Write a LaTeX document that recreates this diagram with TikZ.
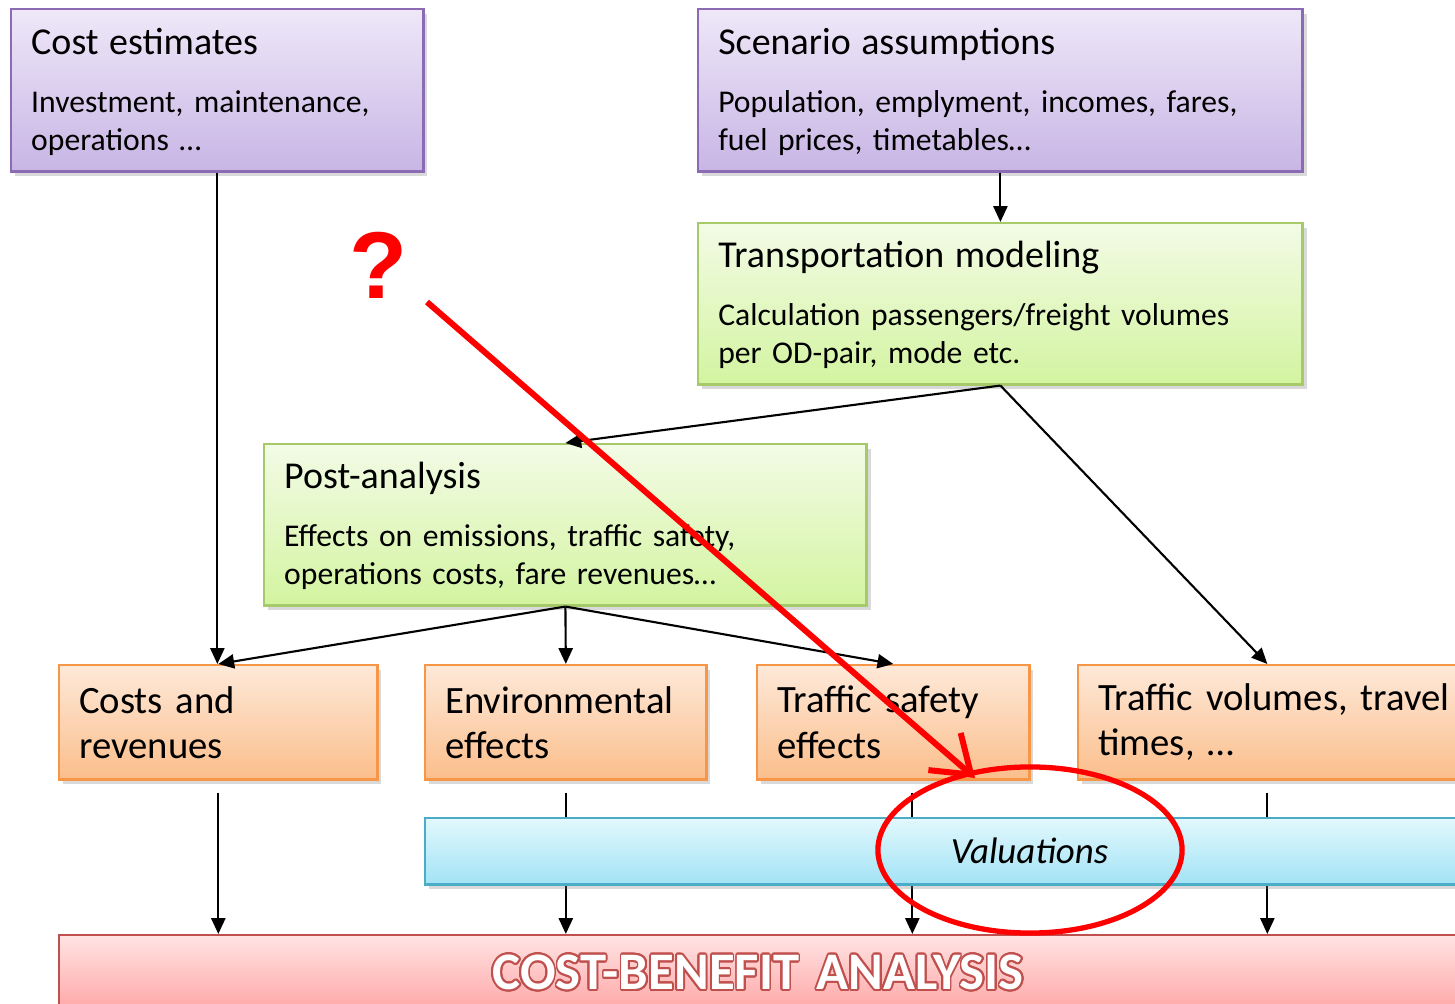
\documentclass[tikz,border=0pt]{standalone}
\usepackage{fontspec}
\setmainfont{Carlito}
\newfontfamily\qmarkfont{Liberation Sans}
\usepackage{xcolor}
\usepackage[copies]{contour}
\usepackage{tikz}
\usetikzlibrary{shadows,arrows.meta}
\contourlength{0.5pt}
\contournumber{24}
\definecolor{purpletop}{HTML}{EEE8F8}
\definecolor{purplebot}{HTML}{C8B5E5}
\definecolor{purpleline}{HTML}{8C6BB5}
\definecolor{greentop}{HTML}{F3FBE6}
\definecolor{greenbot}{HTML}{D3F4A0}
\definecolor{greenline}{HTML}{A6C96A}
\definecolor{orangetop}{HTML}{FEE9D9}
\definecolor{orangebot}{HTML}{FBBE8B}
\definecolor{orangeline}{HTML}{F79646}
\definecolor{cyantop}{HTML}{E2F8FD}
\definecolor{cyanbot}{HTML}{A2E3F6}
\definecolor{cyanline}{HTML}{4BACC6}
\definecolor{pinktop}{HTML}{FFE3E3}
\definecolor{pinkbot}{HTML}{FFA6A6}
\definecolor{pinkline}{HTML}{C0504D}
\newcommand{\boxtitle}{\fontsize{10.8}{12}\selectfont\rule{0pt}{8.2pt}}
\begin{document}
\begin{tikzpicture}[x=0.01cm, y=-0.01cm,
    box/.style={draw, line width=0.7pt, anchor=north west, align=left,
      inner xsep=0.2cm, inner ysep=0pt,
      drop shadow={opacity=0.3, shadow xshift=0.04cm, shadow yshift=-0.05cm},
      font=\fontsize{9}{10.8}\selectfont},
    inputbox/.style={box, top color=purpletop, bottom color=purplebot, draw=purpleline},
    modelbox/.style={box, top color=greentop, bottom color=greenbot, draw=greenline},
    effectbox/.style={box, top color=orangetop, bottom color=orangebot, draw=orangeline,
      font=\fontsize{11}{12.8}\selectfont},
    flow/.style={-{Triangle[length=4.5pt,width=4pt]}, line width=0.6pt}]
    \useasboundingbox (0,0) rectangle (1455,1004);

    \node[inputbox, text width=3.72cm, minimum height=1.62cm] (cost) at (10,8)
      {{\boxtitle Cost estimates}\\[5.7pt] Investment, maintenance,\\ operations …};
    \node[inputbox, text width=5.64cm, minimum height=1.62cm] (scen) at (697,8)
      {{\boxtitle Scenario assumptions}\\[5.7pt] Population, emplyment, incomes, fares,\\ fuel prices, timetables…};
    \node[modelbox, text width=5.64cm, minimum height=1.61cm] (trans) at (697,222)
      {{\boxtitle Transportation modeling}\\[5.7pt] Calculation passengers/freight volumes\\ per OD-pair, mode etc.};
    \node[modelbox, text width=5.62cm, minimum height=1.61cm] (post) at (263,443)
      {{\boxtitle Post-analysis}\\[5.7pt] Effects on emissions, traffic safety,\\ operations costs, fare revenues…};

    \node[effectbox, text width=2.78cm, minimum height=1.14cm] (costrev) at (58,664) {Costs and\\ revenues};
    \node[effectbox, text width=2.41cm, minimum height=1.14cm] (env) at (424,664) {Environmental\\ effects};
    \node[effectbox, text width=2.32cm, minimum height=1.14cm] (safe) at (756,664) {Traffic safety\\ effects};
    \node[effectbox, text width=3.9cm, minimum height=1.14cm] (vol) at (1077,664) {Traffic volumes, travel\\ times, …};

    \node[box, top color=pinktop, bottom color=pinkbot, draw=pinkline, align=center,
      text width=13.57cm, minimum height=0.76cm,
      font=\fontsize{15}{16}\selectfont\bfseries] (cba) at (58,934)
      {\contour{pinkline}{\textcolor{white}{COST-BENEFIT ANALYSIS}}};

    \draw[flow] (cost.south) -- (cost.south |- costrev.north);
    \draw[flow] (scen.south) -- (trans.north);
    \draw[flow] (trans.south) -- (post.north);
    \draw[flow] (trans.south) -- ([xshift=-0.26cm]vol.north);
    \draw[flow] (post.south) -- (costrev.north);
    \draw[flow] (post.south) -- (env.north);
    \draw[flow] (post.south) -- (safe.north);

    \draw[flow] ([yshift=-0.12cm]costrev.south) -- (costrev.south |- cba.north);
    \draw[flow] ([yshift=-0.12cm]env.south) -- (env.south |- cba.north);
    \draw[flow] ([xshift=0.19cm,yshift=-0.12cm]safe.south) -- ([xshift=0.19cm]safe.south |- cba.north);
    \draw[flow] ([xshift=-0.26cm,yshift=-0.12cm]vol.south) -- ([xshift=-0.26cm]vol.south |- cba.north);

    \node[box, top color=cyantop, bottom color=cyanbot, draw=cyanline, align=center,
      text width=11.68cm, minimum height=0.66cm,
      font=\fontsize{10.5}{12}\selectfont\itshape] (val) at (424,817) {Valuations};

    \node[text=red, font=\qmarkfont\fontsize{27}{27}\selectfont\bfseries] (qmark) at (378,265) {?};
    \coordinate (redstart) at (427,302);
    \coordinate (redend) at (975,778);
    \draw[red, line width=1.7pt, -{Straight Barb[length=10pt,width=14pt]}] (redstart) -- (redend);
    \draw[red, line width=1.5pt] (1030,850) ellipse [x radius=1.52cm, y radius=0.83cm];
\end{tikzpicture}
\end{document}
